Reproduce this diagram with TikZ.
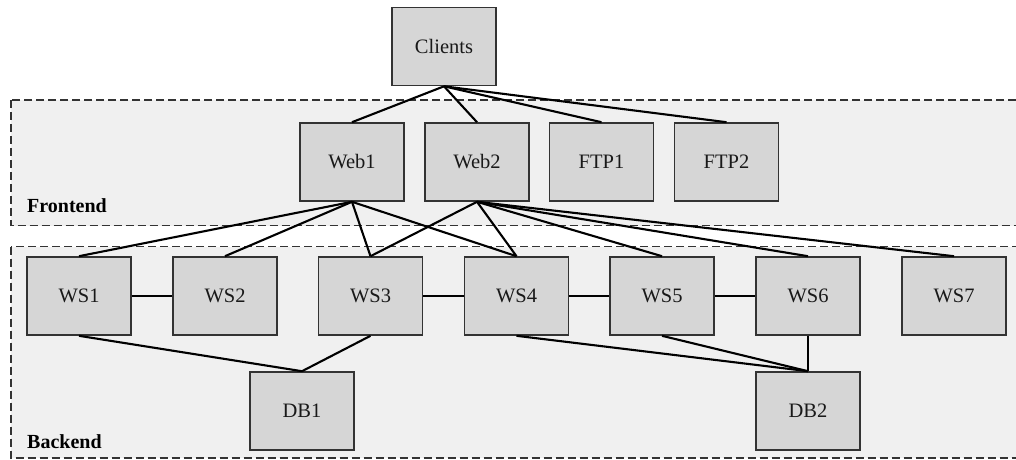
\documentclass[tikz,border=0pt]{standalone}
\usepackage{fontspec}
\setmainfont{Liberation Serif}
\definecolor{clusterfill}{HTML}{F0F0F0}
\definecolor{nodefill}{HTML}{D6D6D6}
\definecolor{nodeborder}{HTML}{333333}
\begin{document}
\begin{tikzpicture}[x=1pt,y=-1pt,
  box/.style={draw=nodeborder,line width=1.6pt,fill=nodefill,minimum width=104pt,minimum height=78pt,inner sep=0pt,font=\fontsize{20.5}{22}\selectfont,text=black!90},
  cluster/.style={draw=black!80,line width=1.5pt,dash pattern=on 8pt off 4pt,fill=clusterfill},
  link/.style={draw=black,line width=2.1pt},
  clabel/.style={font=\fontsize{20}{22}\selectfont\bfseries,anchor=base west,inner sep=0pt}]
\useasboundingbox (0,0) rectangle (1016,459);
\clip (0,0) rectangle (1016,459);
\draw[cluster] (11,100) rectangle (1030,225.5);
\draw[cluster] (11,246.5) rectangle (1030,458);
\node[clabel] (fe) at (27,212) {Frontend};
\node[clabel] (be) at (27,448) {Backend};
% nodes
\node[box] (clients) at (444,46.5) {Clients};
\node[box] (web1) at (352,162) {Web1};
\node[box] (web2) at (477,162) {Web2};
\node[box] (ftp1) at (601.5,162) {FTP1};
\node[box] (ftp2) at (726.5,162) {FTP2};
\node[box] (ws1) at (79,296) {WS1};
\node[box] (ws2) at (225,296) {WS2};
\node[box] (ws3) at (370.5,296) {WS3};
\node[box] (ws4) at (516.5,296) {WS4};
\node[box] (ws5) at (662,296) {WS5};
\node[box] (ws6) at (808,296) {WS6};
\node[box] (ws7) at (954,296) {WS7};
\node[box] (db1) at (302,411) {DB1};
\node[box] (db2) at (808,411) {DB2};
% edges
\foreach \t in {web1,web2,ftp1,ftp2}
  \draw[link] (clients.south) -- (\t.north);
\foreach \t in {ws1,ws2,ws3,ws4}
  \draw[link] (web1.south) -- (\t.north);
\foreach \t in {ws3,ws4,ws5,ws6,ws7}
  \draw[link] (web2.south) -- (\t.north);
\draw[link] (ws1.east) -- (ws2.west);
\draw[link] (ws3.east) -- (ws4.west);
\draw[link] (ws4.east) -- (ws5.west);
\draw[link] (ws5.east) -- (ws6.west);
\draw[link] (ws1.south) -- (db1.north);
\draw[link] (ws3.south) -- (db1.north);
\draw[link] (ws4.south) -- (db2.north);
\draw[link] (ws5.south) -- (db2.north);
\draw[link] (ws6.south) -- (db2.north);
\end{tikzpicture}
\end{document}
